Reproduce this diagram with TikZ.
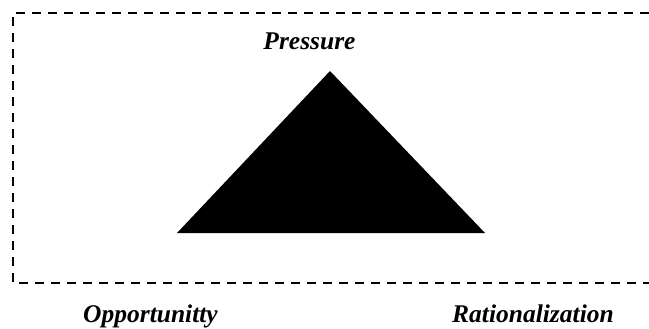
\documentclass[tikz,border=0pt]{standalone}
\usepackage{fontspec}
\setmainfont{Liberation Serif}
\begin{document}
\begin{tikzpicture}[x=1pt,y=-1pt,
  lbl/.style={font=\fontsize{25.5}{28}\selectfont\bfseries\itshape, inner sep=0pt},
  frame/.style={line width=2pt, dash pattern=on 9pt off 7pt}]
\useasboundingbox (0,0) rectangle (649,329);
\coordinate (tl) at (13,13);
\coordinate (tr) at (649,13);
\coordinate (bl) at (13,283);
\coordinate (br) at (649,283);
\draw[frame] (tr) -- (tl) -- (bl) -- (br);
\coordinate (apex) at (330,71);
\coordinate (left) at (177,233);
\coordinate (right) at (485,233);
\fill (apex) -- (left) -- (right) -- cycle;
\node[lbl, anchor=base] (p) at (309.5,50) {Pressure};
\node[lbl, anchor=base east] (o) at (218,322) {Opportunitty};
\node[lbl, anchor=base west] (r) at (452,322) {Rationalization};
\end{tikzpicture}
\end{document}
